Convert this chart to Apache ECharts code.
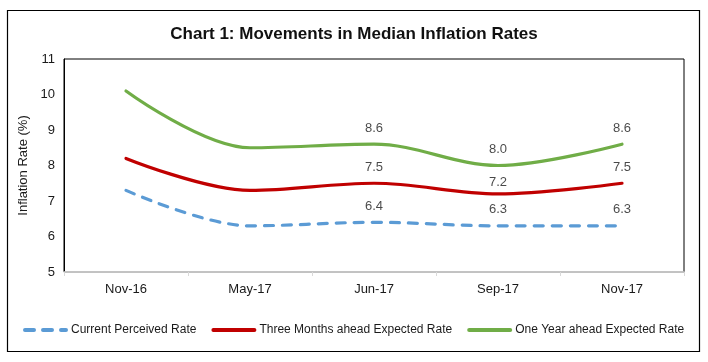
<!DOCTYPE html>
<html>
<head>
<meta charset="utf-8">
<script src="https://cdn.jsdelivr.net/npm/echarts@6/dist/echarts.min.js"></script>
<style>
html,body{margin:0;padding:0;background:#fff;}
#c{width:708px;height:362px;}
</style>
</head>
<body>
<div id="c"></div>
<script>
var categories = ['Nov-16', 'May-17', 'Jun-17', 'Sep-17', 'Nov-17'];
var currentPerceived = [7.3, 6.3, 6.4, 6.3, 6.3];
var threeMonthsAhead = [8.2, 7.3, 7.5, 7.2, 7.5];
var oneYearAhead = [10.1, 8.5, 8.6, 8.0, 8.6];
var labelFrom = 2;

var FONT = '"Liberation Sans", Arial, sans-serif';

function lineSeries(name, values, color, dashed) {
  return {
    name: name,
    type: 'line',
    data: values,
    smooth: 0.35,
    symbol: 'none',
    lineStyle: {
      color: color,
      width: 3.2,
      type: dashed ? [9, 9] : 'solid',
      cap: 'round'
    },
    itemStyle: { color: color },
    emphasis: { disabled: true },
    animation: false
  };
}

function labelSeries(name, values, offsets) {
  return {
    name: name + ' labels',
    type: 'scatter',
    data: values.map(function (v, i) {
      var lab = { show: i >= labelFrom };
      if (offsets && offsets[i]) { lab.offset = offsets[i]; }
      return { value: v, label: lab };
    }),
    symbolSize: 1,
    itemStyle: { color: 'rgba(0,0,0,0)' },
    label: {
      position: 'top',
      distance: 9,
      fontFamily: FONT,
      fontSize: 13,
      color: '#1a1a1a',
      formatter: function (p) { return p.value.toFixed(1); }
    },
    silent: true,
    emphasis: { disabled: true },
    z: 5
  };
}

var chart = echarts.init(document.getElementById('c'), null, { renderer: 'canvas' });
chart.setOption({
  backgroundColor: '#fff',
  animation: false,
  title: {
    text: 'Chart 1: Movements in Median Inflation Rates',
    left: 'center',
    top: 21,
    textStyle: { fontFamily: FONT, fontSize: 17, fontWeight: 'bold', color: '#111' }
  },
  graphic: [{
    type: 'rect',
    shape: { x: 7.5, y: 10.5, width: 692, height: 341 },
    style: { fill: 'none', stroke: '#000', lineWidth: 1.2 },
    silent: true,
    z: 100
  }],
  grid: {
    left: 64, right: 24, top: 59, bottom: 90,
    show: true, borderColor: '#000', borderWidth: 1, backgroundColor: 'transparent'
  },
  legend: {
    top: 319,
    left: 18,
    itemWidth: 41,
    itemHeight: 12,
    itemGap: 15,
    itemStyle: { opacity: 0 },
    lineStyle: { width: 4 },
    textStyle: { fontFamily: FONT, fontSize: 12, color: '#1a1a1a' },
    data: ['Current Perceived Rate', 'Three Months ahead Expected Rate', 'One Year ahead Expected Rate']
  },
  xAxis: {
    type: 'category',
    data: categories,
    boundaryGap: true,
    axisLine: { show: true, lineStyle: { color: '#d9d9d9', width: 1.5 } },
    axisTick: { show: true, length: 4, lineStyle: { color: '#d9d9d9' } },
    axisLabel: { fontFamily: FONT, fontSize: 13, color: '#1a1a1a', margin: 11 },
    splitLine: { show: false }
  },
  yAxis: {
    type: 'value',
    min: 5, max: 11, interval: 1,
    name: 'Inflation Rate (%)',
    nameLocation: 'middle',
    nameGap: 26,
    nameTextStyle: { fontFamily: FONT, fontSize: 13, color: '#1a1a1a' },
    axisLine: { show: true, lineStyle: { color: '#000' } },
    axisTick: { show: false },
    axisLabel: { fontFamily: FONT, fontSize: 13, color: '#1a1a1a', margin: 9 },
    splitLine: { show: false }
  },
  series: [
    lineSeries('Current Perceived Rate', currentPerceived, '#5B9BD5', true),
    lineSeries('Three Months ahead Expected Rate', threeMonthsAhead, '#C00000', false),
    lineSeries('One Year ahead Expected Rate', oneYearAhead, '#70AD47', false),
    labelSeries('Current Perceived Rate', currentPerceived),
    labelSeries('Three Months ahead Expected Rate', threeMonthsAhead, { 3: [0, 5] }),
    labelSeries('One Year ahead Expected Rate', oneYearAhead)
  ]
});
</script>
</body>
</html>
